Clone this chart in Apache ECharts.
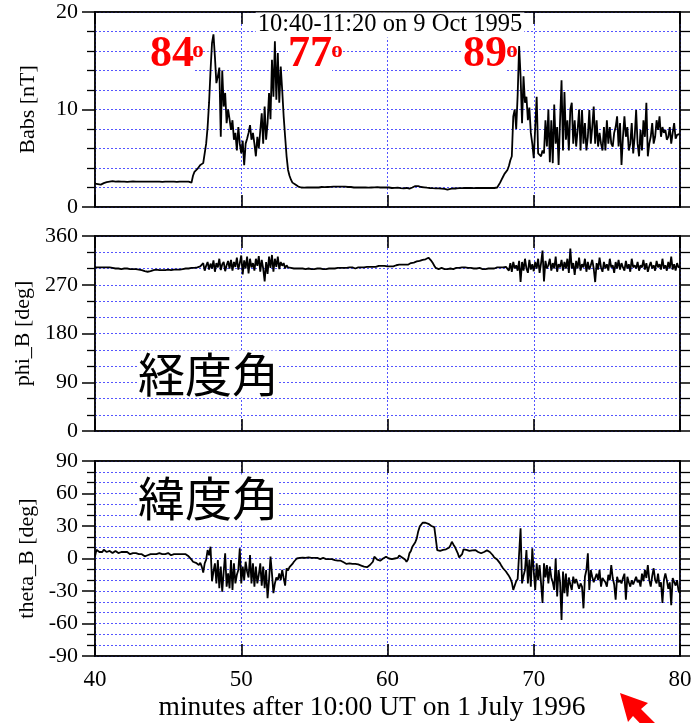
<!DOCTYPE html>
<html>
<head>
<meta charset="utf-8">
<script src="https://cdn.jsdelivr.net/npm/echarts@6/dist/echarts.min.js"></script>
<style>
html,body{margin:0;padding:0;background:#fff;}
#chart{width:693px;height:723px;}
</style>
</head>
<body>
<div id="chart"></div>
<script>
// ---- tick labels ----
const xTicks = [40, 50, 60, 70, 80];
const babsTicks = [0, 10, 20];
const phiTicks = [0, 90, 180, 270, 360];
const thetaTicks = [-90, -60, -30, 0, 30, 60, 90];

// ---- sample times (minutes after 10:00 UT), one sample every 0.1 min ----
const times = [];
for (let i = 0; i <= 400; i++) times.push(Math.round((40 + i * 0.1) * 10) / 10);

// ---- Babs [nT] ----
const babs = [
2.4,2.4,2.35,2.4,2.3,2.4,2.45,2.5,2.55,2.6,
2.6,2.6,2.65,2.6,2.6,2.6,2.62,2.6,2.6,2.6,
2.6,2.6,2.58,2.6,2.6,2.6,2.62,2.6,2.6,2.58,
2.6,2.6,2.6,2.58,2.6,2.6,2.6,2.62,2.6,2.6,
2.6,2.58,2.6,2.6,2.6,2.6,2.58,2.6,2.6,2.6,
2.6,2.6,2.6,2.62,2.6,2.6,2.58,2.6,2.6,2.6,
2.6,2.6,2.6,2.55,2.6,2.55,2.5,3.2,3.6,3.8,
3.9,4.1,4.3,4.5,4.5,4.6,6.5,8.2,10.7,14.0,
16.8,17.7,15.4,12.7,13.4,14.3,7.2,14.0,10.3,11.7,
8.6,10.0,9.0,7.9,8.9,6.9,7.6,5.8,8.2,6.5,
5.5,6.8,4.3,6.5,7.0,7.6,8.4,6.9,7.6,6.5,
5.2,7.2,6.0,5.8,9.6,6.5,10.3,6.9,8.6,11.7,
9.0,15.1,11.3,17.0,11.0,15.8,10.7,14.4,12.0,9.3,
7.2,5.2,3.8,3.2,2.8,2.5,2.4,2.3,2.2,2.1,
2.05,2.0,2.0,1.98,2.0,2.0,1.98,2.0,2.0,2.0,
2.0,2.02,2.0,2.0,2.03,2.05,2.05,2.03,2.05,2.05,
2.05,2.07,2.05,2.08,2.1,2.08,2.1,2.1,2.08,2.1,
2.1,2.08,2.05,2.05,2.03,2.05,2.03,2.0,2.02,2.0,
2.0,2.02,2.0,2.0,1.98,2.0,2.0,1.98,2.0,2.0,
2.0,2.02,2.0,2.03,2.0,2.0,2.02,2.0,2.0,2.0,
2.0,2.0,1.98,1.95,1.95,1.97,2.0,1.98,1.95,1.93,
1.9,1.9,1.92,1.95,1.9,1.88,1.9,2.0,2.1,2.15,
2.2,2.15,2.1,2.05,2.0,2.02,2.0,1.98,1.95,1.95,
1.95,1.93,1.9,1.92,1.95,1.9,1.9,1.88,1.85,1.85,
1.8,1.78,1.8,1.85,1.88,1.9,1.92,1.9,1.92,1.93,
1.95,1.93,1.95,1.95,1.93,1.95,1.95,1.95,1.95,1.93,
1.95,1.95,1.93,1.95,1.95,1.95,1.93,1.95,1.95,1.95,
1.93,1.95,1.95,1.95,1.95,2.0,2.2,2.5,2.8,3.1,
3.4,3.6,3.8,4.2,4.8,5.2,9.3,10.0,8.0,11.5,
16.5,13.4,8.6,13.4,10.7,11.3,8.9,10.2,7.6,6.5,
5.0,4.8,11.3,5.5,5.5,5.2,5.8,5.5,8.9,6.2,
10.0,4.6,8.9,4.5,10.5,6.5,8.2,4.3,8.9,13.0,
5.8,11.8,6.9,8.9,5.8,10.0,10.7,6.5,8.9,6.2,
7.9,10.0,5.8,9.95,6.5,8.6,5.8,7.2,9.95,6.5,
8.2,10.3,6.5,8.9,6.2,7.6,6.5,5.8,8.2,5.8,
8.9,6.5,8.2,6.5,6.2,7.6,8.2,9.3,6.2,8.6,
4.3,7.2,9.3,7.2,8.2,5.8,6.5,8.6,5.5,7.2,
9.95,6.5,5.2,7.9,5.8,8.9,7.2,10.7,5.2,6.5,
7.2,8.6,6.5,7.2,8.9,7.9,9.3,7.2,8.2,7.6,
7.9,6.9,7.2,8.2,6.5,7.6,8.6,7.0,7.4,7.5,
7.5
];

// ---- phi_B [deg] ----
const phiB = [
302,303,302,303,302,301,302,303,302,301,
302,301,301,300,300,301,300,300,299,300,
300,299,300,299,299,300,299,298,299,298,
298,297,297,296,295,294,294,295,295,296,
297,297,298,297,297,298,297,298,297,297,
298,298,297,298,298,297,298,299,298,299,
299,300,300,299,300,301,301,302,301,303,
302,303,304,302,310,296,305,312,298,309,
300,315,294,310,302,318,297,308,312,295,
306,314,300,316,296,312,303,320,298,310,
324,289,315,300,322,291,318,302,310,296,
318,305,323,294,316,300,276,312,290,322,
301,325,294,318,303,322,299,312,305,310,
300,306,302,304,301,303,300,301,300,299,
300,299,300,300,299,299,300,300,299,300,
299,300,300,299,300,300,299,298,299,300,
300,299,300,301,300,300,301,300,301,300,
301,300,301,301,302,301,302,301,300,301,
302,301,302,303,302,302,303,302,303,304,
303,304,303,304,305,304,305,304,305,305,
304,303,304,305,304,305,306,305,307,306,
307,306,307,308,307,309,310,309,311,312,
313,312,314,315,316,315,317,318,320,317,
314,310,305,301,300,299,300,301,300,299,
298,299,299,300,300,299,300,301,300,301,
301,302,301,302,302,301,302,301,301,300,
301,300,300,301,300,299,300,299,299,300,
300,300,301,300,301,302,301,302,303,302,
302,303,305,296,310,294,312,300,306,296,
314,275,312,296,318,300,292,316,298,308,
295,312,300,318,292,310,333,276,314,300,
306,318,296,310,300,322,294,308,302,316,
296,312,300,318,292,337,300,310,288,314,
300,320,296,308,302,318,294,312,298,306,
316,300,275,310,298,320,302,294,312,300,
308,296,318,302,306,292,312,300,316,298,
310,302,296,314,300,308,294,318,302,306,
300,312,296,306,302,316,298,310,294,304,
312,300,306,296,314,302,308,298,318,300,
306,296,312,300,322,298,308,296,310,302,
304
];

// ---- theta_B [deg] ----
const thetaB = [
2,8,7,6,7,6,8,7,6,6,
7,6,5,6,7,6,5,6,6,5,
6,5,6,5,4,5,5,6,5,5,
4,5,4,3,2,2,3,3,4,3,
4,3,4,4,5,4,4,5,4,4,
5,4,3,4,4,5,4,3,4,4,
4,5,4,3,2,1,-1,-3,-2,-4,
-5,-6,-4,-7.5,-13,-4.5,-1,7.8,3,10.9,
-21,-12,-4.5,-23,-1.4,-27.5,-7.5,-30.6,-12,4.8,
-26,-13.7,-27.5,-1.4,-29,-4.5,-23,-15,-10.6,9.4,
-23,-7.5,-20,-3,-12,-17.5,3.2,-23,-4.5,-26,
-7.5,-23,-15,-4.5,-25,-7.5,-27.5,-10.6,-36.7,-20,
1.7,-14,-32,-23,-17.5,-20,-13.7,-20,-10.6,-18,
-25,-9,-11,-8,-7.5,-5,-3,-2,0,0.5,
0.5,1,0.8,1,0.5,0.5,1,0.8,0.5,1,
0.5,0,0.5,0,-0.5,0,0.5,0,-0.5,0,
-0.5,-1,-0.5,-1,-1.5,-1,-2,-1.5,-2,-3,
-3.5,-4,-5,-6,-4.5,-4,-5,-4.5,-5,-6,
-5.5,-6,-6.5,-7,-7.5,-8.5,-8,-7,-6,-4.5,
-3,1.7,0,-1,-2,-2,-1,0,1,1.7,
1,0,-1,-0.5,-1,0,1,0.5,2.7,2,
1,0,-1,-2.9,-1,4.8,7,10.9,12,15,
18.6,25,29.4,31,33,32.5,33,32,32,31,
30,29,29,28,7.8,6.3,7,7.5,8,8.5,
8.5,9,10,12,15.5,13,10.9,8,5,1,
1,4,8.5,7,8,7.8,7,8,7.5,7.8,
7.8,7,6,5.5,4.8,5,6,7.8,7.5,7,
6,5,3,1,0,-1,-2,-4.5,-7,-9,
-10.6,-12,-14,-16,-18.5,-22,-29,-25,-21,-19,
-17.5,27.9,-23,-16,-10.6,7.8,-23,-1,-26,9.4,
-12,-29,-4.5,-20,-6,-23,-41,-4.5,-17.5,-6,
-23,-7.5,-17.5,-22,-29,0,-35,-10.6,-22,-56.8,
-12,-32,-14,-35,-17.5,-24,-29,-16.8,-23,-19,
-20,-28,-23,-26,-46,-16.8,-10.6,4.8,-29,-10.6,
-16.8,-22,-23,-14,-20,-10.6,-26,-18,-20,-22,
-26,-15,-20,-6,-18,-24,-38,-16.8,-22,-20,
-23,-18,-14,-38,-16.8,-22,-26,-20,-24,-23,
-16.8,-22,-19.8,-26,-14,-21,-10.6,-18,-6,-20,
-26,-16,-9,-20,-23,-14,-26,-22,-41,-19.8,
-13.7,-20,-28,-22,-43,-18,-16.8,-25,-20,-30,
-32
];

const SERIF = '"Liberation Serif", "Times New Roman", serif';
const CJK = '"Noto Sans CJK JP", "Noto Sans CJK SC", sans-serif';
const GRIDBLUE = '#5555ff';
const dotted = { color: GRIDBLUE, width: 1, type: [2, 2] };

const panels = [
  { ticks: babsTicks, minor: 5, name: 'Babs [nT]', top: 12 },
  { ticks: phiTicks, minor: 3, name: 'phi_B [deg]', top: 236 },
  { ticks: thetaTicks, minor: 3, name: 'theta_B [deg]', top: 461 }
];
const values = [babs, phiB, thetaB];

const grids = panels.map(p => ({
  left: 95, width: 585, top: p.top, height: 195,
  show: true, borderColor: '#000', borderWidth: 1.5,
  containLabel: false, outerBoundsMode: 'none'
}));

const xBottom = panels.map((p, i) => ({
  gridIndex: i, type: 'value', position: 'bottom',
  min: xTicks[0], max: xTicks[xTicks.length - 1], interval: xTicks[1] - xTicks[0],
  axisLine: { show: true, onZero: false, lineStyle: { color: '#000', width: 1.5 } },
  axisTick: { show: true, inside: true, length: 12, lineStyle: { color: '#000', width: 1.6 } },
  axisLabel: { show: i === 2, fontFamily: SERIF, fontSize: 23, color: '#000', margin: 12 },
  splitLine: { show: true, lineStyle: dotted }
}));
const xTop = panels.map((p, i) => ({
  gridIndex: i, type: 'value', position: 'top',
  min: xTicks[0], max: xTicks[xTicks.length - 1], interval: xTicks[1] - xTicks[0],
  axisLine: { show: true, onZero: false, lineStyle: { color: '#000', width: 1.5 } },
  axisTick: { show: true, inside: true, length: 12, lineStyle: { color: '#000', width: 1.6 } },
  axisLabel: { show: false },
  splitLine: { show: false }
}));

const yLeft = panels.map((p, i) => ({
  gridIndex: i, type: 'value', position: 'left',
  min: p.ticks[0], max: p.ticks[p.ticks.length - 1], interval: p.ticks[1] - p.ticks[0],
  axisLine: { show: true, onZero: false, lineStyle: { color: '#000', width: 1.5 } },
  axisTick: { show: true, length: 13, lineStyle: { color: '#000', width: 1.5 } },
  minorTick: { show: true, splitNumber: p.minor, length: 8, lineStyle: { color: '#000', width: 1.3 } },
  axisLabel: { fontFamily: SERIF, fontSize: 22, color: '#000', margin: 17 },
  splitLine: { show: true, lineStyle: dotted },
  minorSplitLine: { show: true, lineStyle: dotted },
  name: p.name, nameLocation: 'middle', nameGap: 56,
  nameTextStyle: { fontFamily: SERIF, fontSize: 22, color: '#000' }
}));
const yRight = panels.map((p, i) => ({
  gridIndex: i, type: 'value', position: 'right',
  min: p.ticks[0], max: p.ticks[p.ticks.length - 1], interval: p.ticks[1] - p.ticks[0],
  axisLine: { show: true, onZero: false, lineStyle: { color: '#000', width: 1.5 } },
  axisTick: { show: true, length: 10, lineStyle: { color: '#000', width: 1.5 } },
  minorTick: { show: true, splitNumber: p.minor, length: 10, lineStyle: { color: '#000', width: 1.3 } },
  axisLabel: { show: false },
  splitLine: { show: false }
}));

const series = values.map((vals, i) => ({
  type: 'line', xAxisIndex: i, yAxisIndex: i,
  data: times.map((t, k) => [t, vals[k]]),
  showSymbol: false, symbol: 'none', silent: true,
  lineStyle: { color: '#000', width: 1.8 }, z: 3
}));

function redNum(x, txt, supX) {
  return [
    { type: 'text', x: x, y: 55, z: 1, style: { text: txt, fill: '#ff0000', font: 'bold 44px ' + SERIF,
      align: 'left', verticalAlign: 'middle', textAlign: 'left', textVerticalAlign: 'middle', backgroundColor: '#fff' } },
    { type: 'text', x: supX, y: 51, z: 1, style: { text: 'o', fill: '#ff0000', font: 'bold 23px ' + SERIF,
      align: 'center', verticalAlign: 'middle', textAlign: 'center', textVerticalAlign: 'middle' } }
  ];
}

const graphic = [
  { type: 'text', x: 390, y: 25, z: 1, style: { text: '10:40-11:20 on 9 Oct 1995', fill: '#000', font: '24.5px ' + SERIF,
    align: 'center', verticalAlign: 'middle', textAlign: 'center', textVerticalAlign: 'middle', backgroundColor: '#fff', padding: [0, 2] } },
  ...redNum(150, '84', 198),
  ...redNum(288, '77', 337),
  ...redNum(463, '89', 512),
  { type: 'text', x: 138, y: 374, z: 1, style: { text: '経度角', fill: '#000', font: '47px ' + CJK,
    align: 'left', verticalAlign: 'middle', textAlign: 'left', textVerticalAlign: 'middle', backgroundColor: '#fff' } },
  { type: 'text', x: 138, y: 498, z: 1, style: { text: '緯度角', fill: '#000', font: '47px ' + CJK,
    align: 'left', verticalAlign: 'middle', textAlign: 'left', textVerticalAlign: 'middle', backgroundColor: '#fff' } },
  { type: 'text', x: 372, y: 708, style: { text: 'minutes after 10:00 UT on 1 July 1996', fill: '#000', font: '27.5px ' + SERIF,
    align: 'center', verticalAlign: 'middle', textAlign: 'center', textVerticalAlign: 'middle' } },
  { type: 'polygon', z: 5, shape: { points: [[620, 693], [648, 703], [641, 709], [660, 728], [652, 736], [633, 716], [628, 722]] },
    style: { fill: '#ff0000' } }
];

const chart = echarts.init(document.getElementById('chart'), null, { renderer: 'canvas' });
chart.setOption({
  animation: false,
  backgroundColor: '#fff',
  grid: grids,
  xAxis: xBottom.concat(xTop),
  yAxis: yLeft.concat(yRight),
  series: series,
  graphic: graphic
});
</script>
</body>
</html>
